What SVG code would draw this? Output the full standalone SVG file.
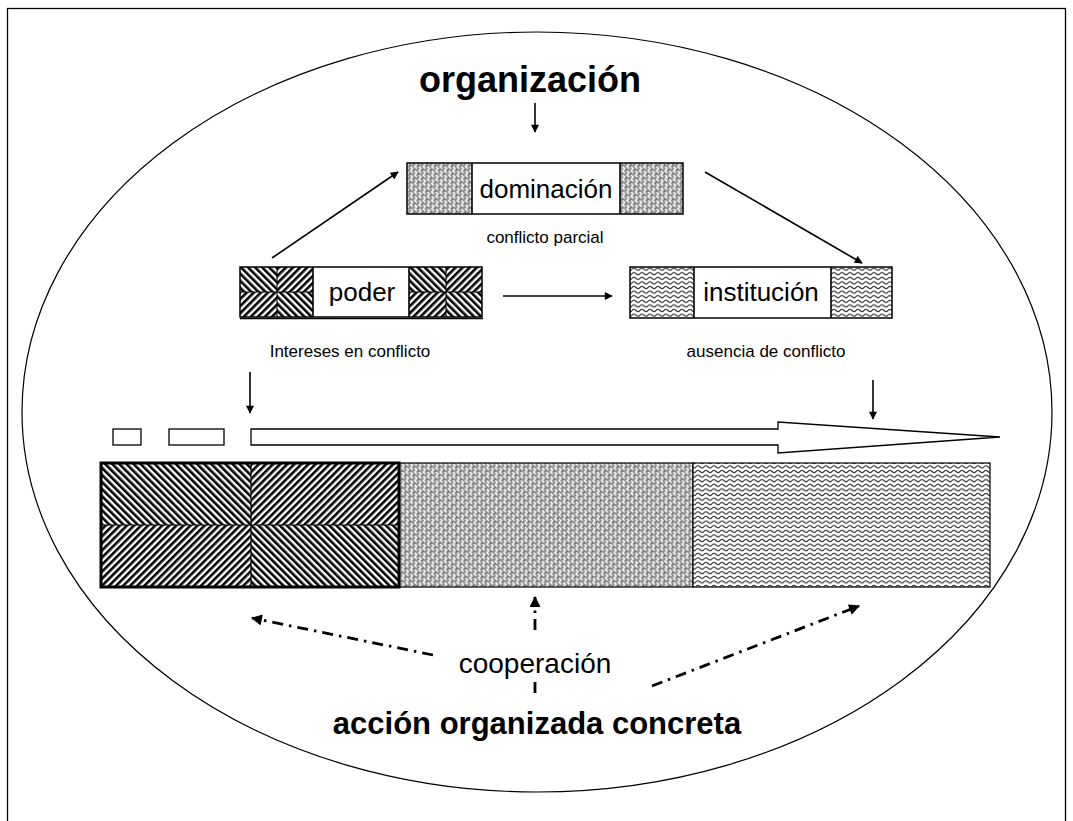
<svg xmlns="http://www.w3.org/2000/svg" width="1073" height="821" viewBox="0 0 1073 821">
<style>
.t{font-family:"Liberation Sans",Arial,sans-serif;fill:#000;text-anchor:middle}
.box{fill:none;stroke:#000;stroke-width:1.5}
.ln{stroke:#000;stroke-width:1.6;fill:none}
.dd{stroke:#000;stroke-width:2.8;fill:none;stroke-dasharray:11 6 2.5 6}
</style>
<defs>
<pattern id="hs" width="5" height="5" patternUnits="userSpaceOnUse" patternTransform="rotate(45)">
<rect width="5" height="5" fill="#fff"/><rect width="2.6" height="5" fill="#000"/>
</pattern>
<pattern id="hb" width="5" height="5" patternUnits="userSpaceOnUse" patternTransform="rotate(-45)">
<rect width="5" height="5" fill="#fff"/><rect width="2.6" height="5" fill="#000"/>
</pattern>
<pattern id="weave" width="6" height="6" patternUnits="userSpaceOnUse" patternTransform="rotate(45)">
<rect width="6" height="6" fill="#8e8e8e"/>
<path d="M0 1.5 H3 V4.5 H6" stroke="#fff" stroke-width="1.3" fill="none"/>
<rect x="4.5" y="0.5" width="1" height="1" fill="#222"/>
</pattern>
<pattern id="wave" width="8" height="4.6" patternUnits="userSpaceOnUse">
<rect width="8" height="4.6" fill="#fff"/>
<path d="M0 2.3 Q2 0.3 4 2.3 T8 2.3" stroke="#333" stroke-width="1.2" fill="none"/>
</pattern>
<marker id="ah" viewBox="0 0 10 10" refX="9" refY="5" markerWidth="9" markerHeight="8" markerUnits="userSpaceOnUse" orient="auto">
<path d="M0 0 L10 5 L0 10 z" fill="#000"/>
</marker>
<marker id="ah2" viewBox="0 0 10 10" refX="9" refY="5" markerWidth="12" markerHeight="11" markerUnits="userSpaceOnUse" orient="auto">
<path d="M0 0 L10 5 L0 10 z" fill="#000"/>
</marker>
</defs>
<rect x="0" y="0" width="1073" height="821" fill="#fff"/>
<rect x="7.5" y="8.5" width="1058" height="830" fill="none" stroke="#000" stroke-width="1.3"/>
<ellipse cx="537" cy="412" rx="515" ry="380" fill="none" stroke="#000" stroke-width="1.2"/>

<g id="organizacion"><text class="t" x="530" y="92" font-size="36" font-weight="bold">organización</text></g>

<g id="dominacion">
<rect x="407" y="163" width="65" height="51" fill="url(#weave)"/>
<rect x="620" y="163" width="63" height="51" fill="url(#weave)"/>
<rect x="407" y="163" width="276" height="51" class="box"/>
<line x1="472" y1="163" x2="472" y2="214" class="ln"/>
<line x1="620" y1="163" x2="620" y2="214" class="ln"/>
<text class="t" x="546" y="198" font-size="26">dominación</text>
<text class="t" x="545" y="243" font-size="17">conflicto parcial</text>
</g>

<g id="poder">
<rect x="240" y="267" width="37" height="25" fill="url(#hb)"/>
<rect x="277" y="267" width="36" height="25" fill="url(#hs)"/>
<rect x="240" y="292" width="37" height="25" fill="url(#hs)"/>
<rect x="277" y="292" width="36" height="25" fill="url(#hb)"/>
<rect x="409" y="267" width="37" height="25" fill="url(#hb)"/>
<rect x="446" y="267" width="36" height="25" fill="url(#hs)"/>
<rect x="409" y="292" width="37" height="25" fill="url(#hs)"/>
<rect x="446" y="292" width="36" height="25" fill="url(#hb)"/>
<path d="M240 292 H313 M277 267 V317 M409 292 H482 M446 267 V317" stroke="#000" stroke-width="1"/>
<rect x="240" y="267" width="242" height="50" class="box"/>
<line x1="240" y1="318.5" x2="483" y2="318.5" stroke="#000" stroke-width="1.5"/>
<line x1="313" y1="267" x2="313" y2="317" class="ln"/>
<line x1="409" y1="267" x2="409" y2="317" class="ln"/>
<text class="t" x="362" y="301" font-size="26">poder</text>
<text class="t" x="350" y="357" font-size="17">Intereses en conflicto</text>
</g>

<g id="institucion">
<rect x="630" y="267" width="64" height="51" fill="url(#wave)"/>
<rect x="831" y="267" width="61" height="51" fill="url(#wave)"/>
<rect x="630" y="267" width="262" height="51" class="box"/>
<line x1="694" y1="267" x2="694" y2="318" class="ln"/>
<line x1="831" y1="267" x2="831" y2="318" class="ln"/>
<text class="t" x="761" y="301" font-size="26">institución</text>
<text class="t" x="766" y="357" font-size="17">ausencia de conflicto</text>
</g>

<g id="timeline">
<rect x="113" y="429" width="28" height="16" fill="#fff" stroke="#000" stroke-width="1.3"/>
<rect x="169" y="429" width="55" height="16" fill="#fff" stroke="#000" stroke-width="1.3"/>
<path d="M251 429 H778 V422 L1000 437 L778 453 V445 H251 Z" fill="#fff" stroke="#000" stroke-width="1.3"/>
</g>

<g id="bar">
<rect x="101" y="463" width="150" height="62" fill="url(#hb)"/>
<rect x="251" y="463" width="148" height="62" fill="url(#hs)"/>
<rect x="101" y="525" width="150" height="62" fill="url(#hs)"/>
<rect x="251" y="525" width="148" height="62" fill="url(#hb)"/>
<path d="M101 525 H399 M251 463 V587" stroke="#000" stroke-width="1.2"/>
<rect x="399" y="463" width="294" height="124" fill="url(#weave)" stroke="#000" stroke-width="1.2"/>
<rect x="693" y="463" width="297" height="124" fill="url(#wave)" stroke="#000" stroke-width="1.2"/>
<rect x="101" y="463" width="298" height="124" fill="none" stroke="#000" stroke-width="3"/>
</g>

<g id="cooperacion"><text class="t" x="535" y="673" font-size="28">cooperación</text></g>
<g id="accion"><text class="t" x="537" y="734" font-size="31" font-weight="bold">acción organizada concreta</text></g>

<g id="connectors">
<line x1="535" y1="103" x2="535" y2="132" class="ln" marker-end="url(#ah)"/>
<line x1="272" y1="258" x2="398" y2="172" class="ln" marker-end="url(#ah)"/>
<line x1="705" y1="172" x2="862" y2="263" class="ln" marker-end="url(#ah)"/>
<line x1="503" y1="296" x2="612" y2="296" class="ln" marker-end="url(#ah)"/>
<line x1="250" y1="372" x2="250" y2="413" class="ln" marker-end="url(#ah)"/>
<line x1="873" y1="380" x2="873" y2="419" class="ln" marker-end="url(#ah)"/>
<line x1="433" y1="655" x2="252" y2="618" class="dd" marker-end="url(#ah2)"/>
<line x1="652" y1="686" x2="859" y2="606" class="dd" marker-end="url(#ah2)"/>
<line x1="535" y1="630" x2="535" y2="597" class="dd" marker-end="url(#ah2)"/>
<line x1="535" y1="693" x2="535" y2="680" class="dd" stroke-dasharray="12 5 3 5"/>
</g>
</svg>
